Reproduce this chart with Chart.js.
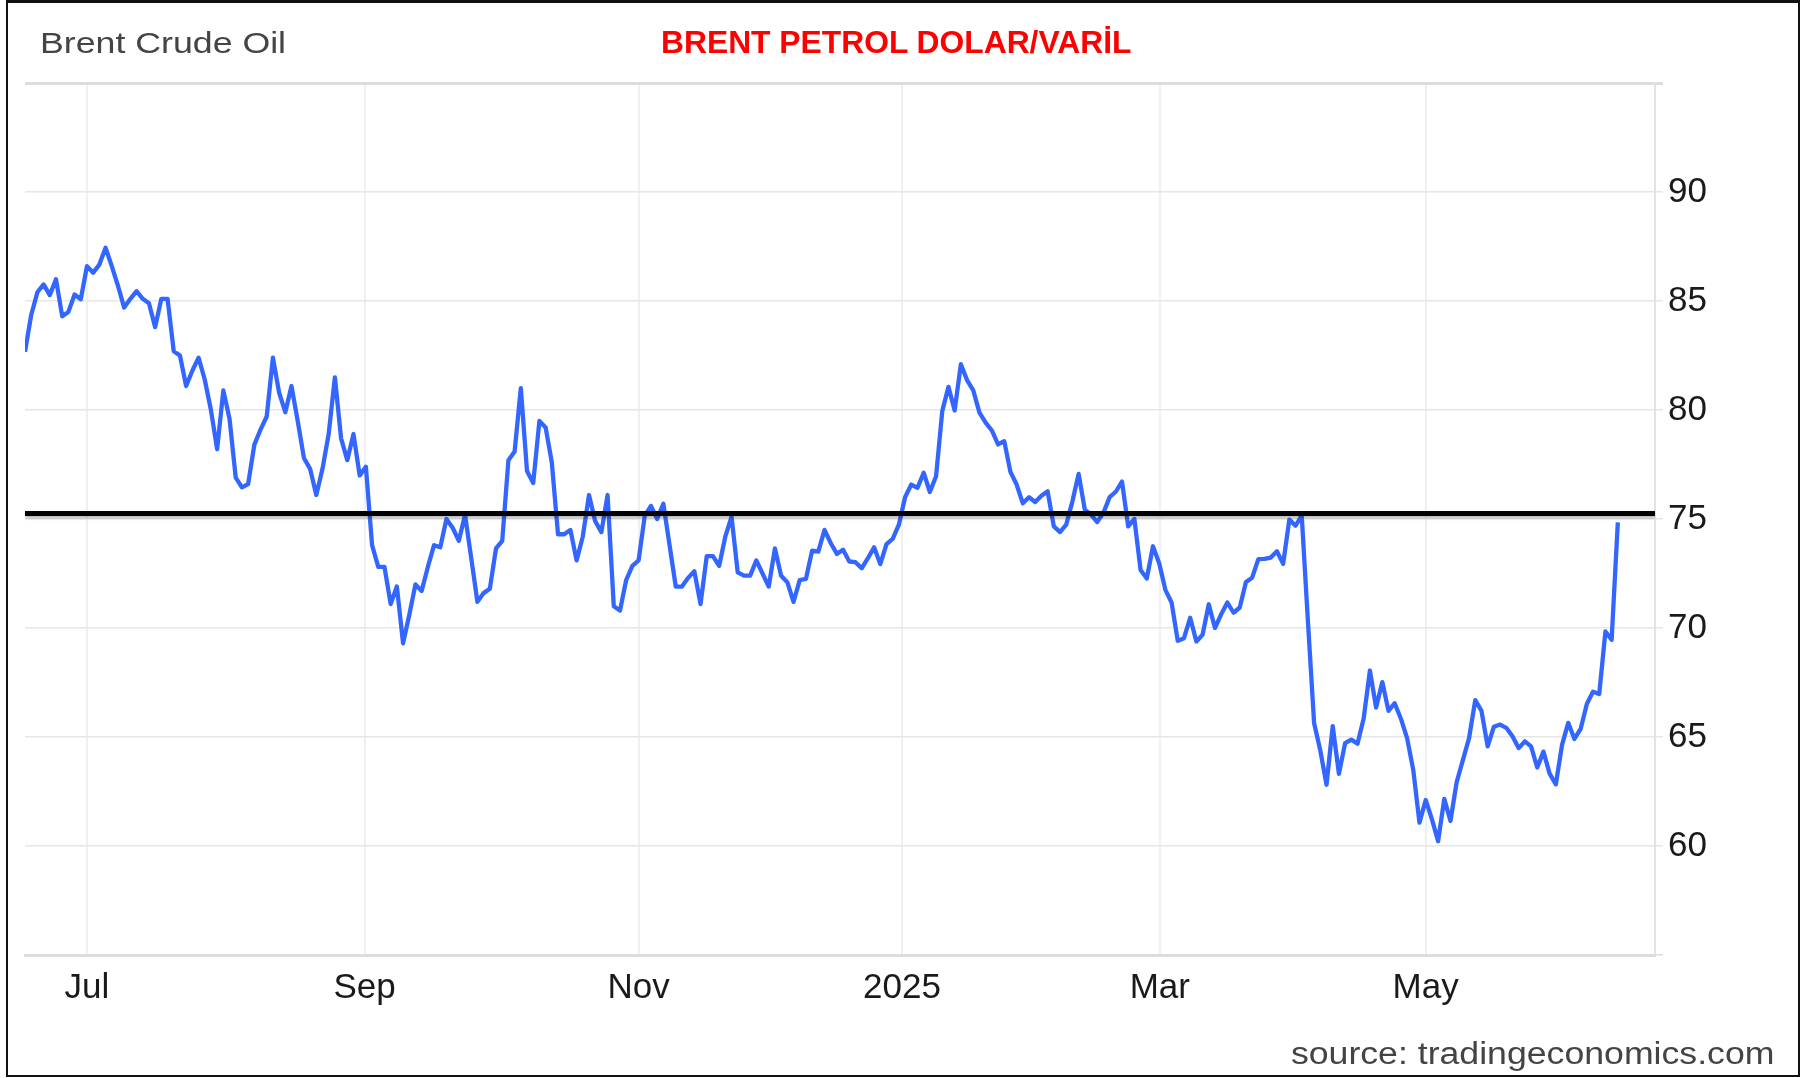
<!DOCTYPE html>
<html>
<head>
<meta charset="utf-8">
<script src="https://cdn.jsdelivr.net/npm/chart.js@4.4.1/dist/chart.umd.min.js"></script>
<style>
    html, body { margin: 0; padding: 0; background: #fff; }
    #wrap { position: relative; width: 1812px; height: 1078px; overflow: hidden; font-family: "Liberation Sans", Arial, sans-serif; }
    #frame { position: absolute; left: 6px; top: 0; width: 1794px; height: 1077px; box-sizing: border-box; border: 2px solid #111; border-top-width: 3px; pointer-events: none; }
    #chart-box { position: absolute; left: 0; top: 0; width: 1812px; height: 1078px; }
    .label { position: absolute; white-space: nowrap; line-height: 1; }
    #left-title { left: 40px; top: 28px; font-size: 30px; color: #444; transform: scaleX(1.19); transform-origin: left center; }
    #main-title { left: 661px; top: 27px; font-size: 31.8px; font-weight: bold; color: #ff0000; }
    #source { right: 38px; top: 1038px; font-size: 31px; color: #444; transform: scaleX(1.15); transform-origin: right center; }
</style>
</head>
<body>
<div id="wrap">
    <div id="chart-box"><canvas id="brent"></canvas></div>
    <div id="left-title" class="label">Brent Crude Oil</div>
    <div id="main-title" class="label">BRENT PETROL DOLAR/VARİL</div>
    <div id="source" class="label">source: tradingeconomics.com</div>
    <div id="frame"></div>
</div>
<script>
// daily Brent closes (one value per trading day, mid-June 2024 to mid-June 2025)
const brentPrices = [
    82.67, 84.36, 85.4, 85.76, 85.27, 86.0, 84.3, 84.5, 85.3, 85.08,
    86.6, 86.3, 86.67, 87.44, 86.6, 85.7, 84.7, 85.1, 85.45, 85.1,
    84.9, 83.8, 85.1, 85.1, 82.7, 82.5, 81.1, 81.8, 82.4, 81.4,
    80.0, 78.2, 80.9, 79.6, 76.9, 76.45, 76.6, 78.4, 79.1, 79.7,
    82.4, 80.8, 79.9, 81.1, 79.5, 77.8, 77.3, 76.1, 77.3, 78.9,
    81.5, 78.7, 77.7, 78.9, 77.0, 77.4, 73.8, 72.8, 72.8, 71.1,
    71.9, 69.3, 70.6, 72.0, 71.7, 72.8, 73.8, 73.7, 75.0, 74.6,
    74.0, 75.2, 73.2, 71.2, 71.6, 71.8, 73.65, 74.0, 77.7, 78.1,
    81.0, 77.2, 76.65, 79.5, 79.2, 77.6, 74.3, 74.3, 74.5, 73.1,
    74.2, 76.1, 74.9, 74.4, 76.1, 71.0, 70.8, 72.2, 72.85, 73.1,
    75.15, 75.6, 75.0, 75.7, 73.8, 71.9, 71.9, 72.3, 72.6, 71.1,
    73.3, 73.3, 72.85, 74.2, 75.1, 72.55, 72.4, 72.4, 73.1, 72.5,
    71.9, 73.65, 72.4, 72.1, 71.2, 72.2, 72.25, 73.55, 73.5, 74.5,
    73.9, 73.4, 73.59, 73.05, 73.02, 72.74, 73.2, 73.7, 72.93, 73.85,
    74.09, 74.74, 76.0, 76.58, 76.43, 77.12, 76.24, 76.96, 79.95, 81.06,
    79.98, 82.1, 81.37, 80.9, 79.88, 79.42, 79.06, 78.42, 78.57, 77.16,
    76.58, 75.72, 76.0, 75.78, 76.07, 76.27, 74.66, 74.4, 74.74, 75.81,
    77.07, 75.43, 75.2, 74.86, 75.28, 76.0, 76.25, 76.72, 74.66, 75.0,
    72.66, 72.27, 73.75, 72.97, 71.75, 71.17, 69.41, 69.53, 70.47, 69.38,
    69.69, 71.09, 70.0, 70.63, 71.17, 70.7, 70.94, 72.11, 72.31, 73.16,
    73.17, 73.23, 73.52, 72.94, 74.97, 74.69, 75.16, 70.3, 65.63, 64.38,
    62.81, 65.5, 63.31, 64.72, 64.88, 64.69, 65.86, 68.05, 66.35, 67.52,
    66.2, 66.55, 65.84, 64.95, 63.48, 61.07, 62.11, 61.23, 60.22, 62.16,
    61.15, 62.93, 63.94, 64.95, 66.69, 66.2, 64.57, 65.47, 65.57, 65.42,
    65.03, 64.49, 64.8, 64.57, 63.6, 64.33, 63.32, 62.83, 64.64, 65.65,
    64.91, 65.37, 66.51, 67.08, 66.97, 69.84, 69.46, 74.84
];

// month ticks, placed on the trading-day index axis
const monthTickPos = [10, 54.8, 99, 141.5, 183.1, 226];
const monthTickLabels = ['Jul', 'Sep', 'Nov', '2025', 'Mar', 'May'];

// horizontal reference line drawn in black
const refLevel = 75.25;

const yMin = 55, yMax = 95, yStep = 5;
const xMin = 0, xMax = 263;

const priceSeries = brentPrices.map((v, i) => ({ x: i, y: v }));
const refSeries = [{ x: xMin, y: refLevel }, { x: xMax, y: refLevel }];

// soft shadow under the black line
const refShadow = {
    id: 'refShadow',
    beforeDatasetDraw(chart, args) {
        if (args.index === 1) {
            const ctx = chart.ctx;
            ctx.save();
            ctx.shadowColor = 'rgba(0,0,0,0.3)';
            ctx.shadowBlur = 3;
            ctx.shadowOffsetY = 2;
        }
    },
    afterDatasetDraw(chart, args) {
        if (args.index === 1) {
            chart.ctx.restore();
        }
    }
};

const ctx = document.getElementById('brent').getContext('2d');
new Chart(ctx, {
    type: 'line',
    data: {
        datasets: [{
            label: 'Brent',
            data: priceSeries,
            borderColor: '#3366ff',
            borderWidth: 4.3,
            pointRadius: 0,
            tension: 0,
            borderJoinStyle: 'round',
            order: 1
        }, {
            label: 'level',
            data: refSeries,
            borderColor: '#000',
            borderWidth: 5,
            pointRadius: 0,
            order: 0
        }]
    },
    plugins: [refShadow],
    options: {
        responsive: true,
        maintainAspectRatio: false,
        animation: false,
        layout: { padding: { left: 25, top: 83, right: 0, bottom: 0 } },
        plugins: {
            legend: { display: false },
            tooltip: { enabled: false },
            title: { display: false }
        },
        scales: {
            x: {
                type: 'linear',
                min: xMin,
                max: xMax,
                afterBuildTicks: (scale) => {
                    scale.ticks = monthTickPos.map(v => ({ value: v }));
                },
                afterFit: (scale) => { scale.height = 1078 - 955; },
                grid: { color: '#edf1f5', lineWidth: 2, drawTicks: false },
                border: { color: '#dddddd', width: 3 },
                ticks: {
                    autoSkip: false,
                    maxRotation: 0,
                    padding: 12,
                    color: '#1a1a1a',
                    font: { family: 'Liberation Sans', size: 35 },
                    callback: (value, index) => monthTickLabels[index]
                }
            },
            y: {
                position: 'right',
                min: yMin,
                max: yMax,
                afterFit: (scale) => { scale.width = 1812 - 1655; },
                grid: {
                    color: (c) => (c.tick.value === yMin || c.tick.value === yMax) ? '#dddddd' : '#e6e6e6',
                    lineWidth: (c) => (c.tick.value === yMax) ? 3 : 1.5,
                    tickLength: 8
                },
                border: { color: '#e3e3e3', width: 2 },
                ticks: {
                    stepSize: yStep,
                    padding: 5,
                    color: '#1a1a1a',
                    font: { family: 'Liberation Sans', size: 35 },
                    callback: (value) => (value === yMin || value === yMax) ? '' : value
                }
            }
        }
    }
});
</script>
</body>
</html>
